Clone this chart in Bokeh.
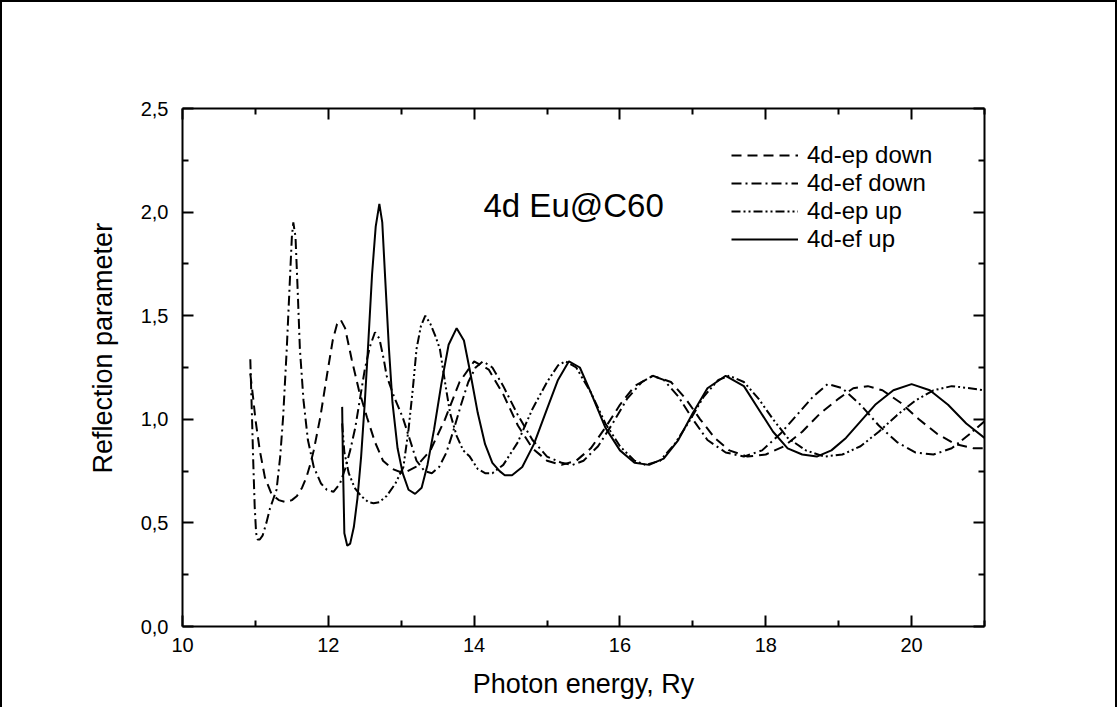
from bokeh.plotting import figure
from bokeh.models import (Range1d, FixedTicker, LinearAxis, CustomJSTickFormatter,
                          Legend, LegendItem, Label, Title)
from bokeh.embed import file_html
from bokeh.resources import INLINE

# ---------------- data ----------------
ep_down_x = [10.93, 10.97, 11.00, 11.06, 11.13, 11.22, 11.32, 11.42, 11.50, 11.57, 11.64, 11.70,
             11.75, 11.80, 11.89, 11.98, 12.06, 12.12, 12.17, 12.23, 12.32, 12.42, 12.53, 12.64,
             12.75, 12.88, 13.03, 13.20, 13.40, 13.60, 13.80, 14.00, 14.20, 14.40, 14.60, 14.80,
             15.00, 15.20, 15.40, 15.60, 15.80, 16.00, 16.20, 16.45, 16.70, 16.90, 17.10, 17.30,
             17.50, 17.75, 18.00, 18.25, 18.50, 18.75, 19.00, 19.20, 19.40, 19.60, 19.85, 20.10,
             20.35, 20.60, 20.85, 21.00]
ep_down_y = [1.22, 1.10, 1.00, 0.85, 0.72, 0.64, 0.61, 0.60, 0.61, 0.63, 0.67, 0.72,
             0.78, 0.85, 1.01, 1.21, 1.38, 1.46, 1.48, 1.44, 1.29, 1.14, 1.01, 0.89,
             0.80, 0.76, 0.74, 0.77, 0.85, 1.00, 1.18, 1.28, 1.24, 1.12, 0.97, 0.86,
             0.80, 0.78, 0.80, 0.86, 0.96, 1.07, 1.16, 1.21, 1.18, 1.10, 1.00, 0.91,
             0.85, 0.82, 0.83, 0.87, 0.94, 1.03, 1.10, 1.15, 1.16, 1.14, 1.08, 1.00,
             0.93, 0.88, 0.86, 0.86]

ef_down_x = [10.93, 10.95, 10.97, 10.99, 11.01, 11.03, 11.06, 11.10, 11.15, 11.20, 11.25, 11.29,
             11.34, 11.38, 11.43, 11.47, 11.50, 11.52, 11.55, 11.58, 11.61, 11.66, 11.72, 11.80,
             11.90, 11.98, 12.07, 12.16, 12.23, 12.30, 12.37, 12.43, 12.50, 12.57, 12.64, 12.70,
             12.76, 12.80, 12.90, 13.02, 13.12, 13.21, 13.32, 13.42, 13.52, 13.62, 13.72, 13.82,
             13.92, 14.02, 14.12, 14.25, 14.40, 14.60, 14.80, 15.00, 15.20, 15.35, 15.50, 15.70,
             15.90, 16.10, 16.30, 16.45, 16.60, 16.80, 17.00, 17.20, 17.45, 17.70, 17.95, 18.20,
             18.45, 18.65, 18.85, 19.05, 19.30, 19.55, 19.80, 20.05, 20.30, 20.55, 20.80, 21.00]
ef_down_y = [1.29, 1.05, 0.80, 0.58, 0.45, 0.42, 0.42, 0.44, 0.50, 0.57, 0.62, 0.66,
             0.82, 1.01, 1.34, 1.65, 1.88, 1.95, 1.88, 1.62, 1.34, 1.09, 0.90, 0.77,
             0.69, 0.66, 0.65, 0.69, 0.76, 0.85, 0.96, 1.09, 1.24, 1.35, 1.42, 1.39,
             1.29, 1.21, 1.11, 1.01, 0.90, 0.80, 0.75, 0.74, 0.77, 0.84, 0.95, 1.07,
             1.18, 1.25, 1.28, 1.25, 1.16, 1.02, 0.90, 0.82, 0.79, 0.78, 0.80, 0.87,
             0.98, 1.10, 1.18, 1.21, 1.19, 1.11, 1.00, 0.90, 0.84, 0.82, 0.85, 0.93,
             1.03, 1.11, 1.17, 1.15, 1.07, 0.97, 0.89, 0.84, 0.83, 0.86, 0.93, 0.99]

ep_up_x = [12.19, 12.22, 12.28, 12.36, 12.45, 12.55, 12.62, 12.70, 12.80, 12.92, 13.03, 13.10,
           13.16, 13.21, 13.27, 13.33, 13.40, 13.47, 13.53, 13.60, 13.67, 13.76, 13.85, 13.94,
           14.05, 14.15, 14.25, 14.40, 14.60, 14.80, 15.00, 15.15, 15.25, 15.40, 15.60, 15.80,
           16.00, 16.20, 16.35, 16.55, 16.75, 16.95, 17.15, 17.35, 17.50, 17.70, 17.90, 18.10,
           18.30, 18.55, 18.80, 19.05, 19.30, 19.55, 19.80, 20.05, 20.30, 20.55, 20.80, 21.00]
ep_up_y = [0.98, 0.84, 0.74, 0.67, 0.63, 0.60, 0.595, 0.60, 0.63, 0.69, 0.77, 0.95,
           1.15, 1.34, 1.45, 1.50, 1.46, 1.40, 1.34, 1.18, 1.03, 0.92, 0.85, 0.82,
           0.76, 0.74, 0.74, 0.78, 0.89, 1.05, 1.18, 1.26, 1.28, 1.25, 1.13, 0.98,
           0.87, 0.80, 0.78, 0.80, 0.88, 0.99, 1.11, 1.19, 1.21, 1.18, 1.10, 1.00,
           0.91, 0.85, 0.82, 0.83, 0.87, 0.94, 1.02, 1.09, 1.14, 1.16, 1.15, 1.14]

ef_up_x = [12.19, 12.20, 12.22, 12.26, 12.30, 12.35, 12.40, 12.45, 12.50, 12.55, 12.60, 12.65,
           12.70, 12.74, 12.78, 12.83, 12.88, 12.95, 13.02, 13.10, 13.19, 13.28, 13.36, 13.45,
           13.55, 13.65, 13.76, 13.86, 13.95, 14.05, 14.15, 14.25, 14.35, 14.42, 14.52, 14.66,
           14.82, 15.00, 15.15, 15.30, 15.45, 15.60, 15.80, 16.00, 16.20, 16.40, 16.60, 16.80,
           17.00, 17.20, 17.45, 17.70, 17.90, 18.10, 18.30, 18.50, 18.70, 18.90, 19.10, 19.30,
           19.50, 19.75, 20.00, 20.25, 20.50, 20.75, 21.00]
ef_up_y = [1.06, 0.80, 0.45, 0.39, 0.40, 0.48, 0.62, 0.82, 1.08, 1.38, 1.70, 1.93,
           2.04, 1.95, 1.68, 1.35, 1.08, 0.86, 0.74, 0.66, 0.64, 0.67, 0.78, 0.95,
           1.17, 1.36, 1.44, 1.38, 1.22, 1.03, 0.88, 0.79, 0.75, 0.73, 0.73, 0.77,
           0.88, 1.05, 1.19, 1.28, 1.25, 1.13, 0.96, 0.85, 0.79, 0.78, 0.81, 0.90,
           1.03, 1.15, 1.21, 1.16, 1.05, 0.94, 0.86, 0.83, 0.82, 0.85, 0.91, 0.99,
           1.07, 1.14, 1.17, 1.14, 1.07, 0.98, 0.91]

series_labels = ["4d-ep down", "4d-ef down", "4d-ep up", "4d-ef up"]
x_major = [10, 12, 14, 16, 18, 20]
x_minor = [11, 13, 15, 17, 19, 21]
y_major = [0.0, 0.5, 1.0, 1.5, 2.0, 2.5]
y_minor = [0.25, 0.75, 1.25, 1.75, 2.25]
x_title = "Photon energy, Ry"
y_title = "Reflection parameter"
annotation = "4d Eu@C60"

FONT = "Liberation Sans"
W, H = 1117, 707

p = figure(width=W, height=H, output_backend="svg", toolbar_location=None,
           x_range=Range1d(10, 21), y_range=Range1d(0, 2.5),
           x_axis_location=None, y_axis_location=None,
           min_border_left=182, min_border_right=133, min_border_top=108, min_border_bottom=81)
p.xgrid.visible = False
p.ygrid.visible = False
p.outline_line_color = None
p.background_fill_color = None
p.border_fill_color = None
p.styles = {"box-shadow": "inset 4px 4px 0 -2px black, inset -4px 0 0 -2px black",
            "background-color": "white"}


def style_axis(ax, ticks, minor, labels):
    ax.ticker = FixedTicker(ticks=ticks, minor_ticks=minor)
    ax.axis_line_width = 2
    ax.axis_line_color = "black"
    ax.major_tick_in = 11
    ax.major_tick_out = 0
    ax.minor_tick_in = 6
    ax.minor_tick_out = 0
    ax.major_tick_line_width = 2
    ax.minor_tick_line_width = 2
    ax.major_tick_line_color = "black"
    ax.minor_tick_line_color = "black"
    ax.major_label_text_font = FONT
    ax.major_label_text_font_size = "20px"
    ax.major_label_text_color = "black"
    if not labels:
        ax.formatter = CustomJSTickFormatter(code="return ''")


xb = LinearAxis()
style_axis(xb, x_major, x_minor, True)
xb.major_label_standoff = 11
xb.axis_label = x_title
xb.axis_label_text_font = FONT
xb.axis_label_text_font_size = "27px"
xb.axis_label_text_font_style = "normal"
xb.axis_label_text_color = "black"
xb.axis_label_standoff = 14
p.add_layout(xb, "below")

xt = LinearAxis()
style_axis(xt, x_major, x_minor, False)
p.add_layout(xt, "above")

yl = LinearAxis()
style_axis(yl, y_major, y_minor, True)
yl.formatter = CustomJSTickFormatter(code="return tick.toFixed(1).replace('.', ',')")
yl.major_label_standoff = 14
p.add_layout(yl, "left")

yr = LinearAxis()
style_axis(yr, y_major, y_minor, False)
p.add_layout(yr, "right")

p.add_layout(Title(text=y_title, align="left", offset=153, standoff=40,
                   text_font=FONT, text_font_size="27px", text_font_style="normal",
                   text_color="black"), "left")

r1 = p.line(ep_down_x, ep_down_y, line_color="black", line_width=2, line_dash="10 6")
r2 = p.line(ef_down_x, ef_down_y, line_color="black", line_width=2, line_dash="10 4 2 4")
r3 = p.line(ep_up_x, ep_up_y, line_color="black", line_width=2, line_dash="9 3 2 3 2 3")
r4 = p.line(ef_up_x, ef_up_y, line_color="black", line_width=2)

legend = Legend(items=[LegendItem(label=series_labels[i], renderers=[r])
                       for i, r in enumerate([r1, r2, r3, r4])],
                location=(549, 373))
legend.glyph_width = 67
legend.glyph_height = 28
legend.label_height = 28
legend.spacing = 0
legend.padding = 0
legend.margin = 0
legend.label_standoff = 9
legend.border_line_color = None
legend.background_fill_alpha = 0
legend.label_text_font = FONT
legend.label_text_font_size = "24px"
legend.label_text_color = "black"
p.add_layout(legend)

p.add_layout(Label(x=301, y=421, x_units="screen", y_units="screen", text=annotation,
                   text_font=FONT, text_font_size="33px", text_baseline="alphabetic",
                   text_align="left", text_color="black"))

open("out.html", "w").write(file_html(p, INLINE))
